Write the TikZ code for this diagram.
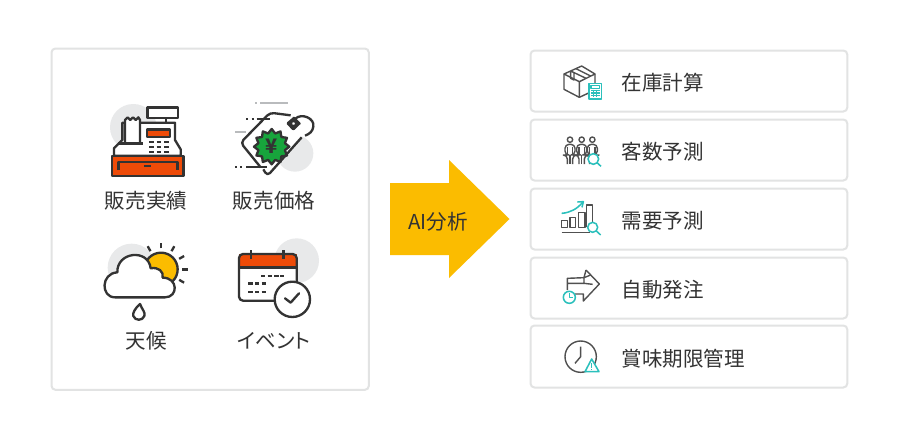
\documentclass[tikz,border=0pt]{standalone}
\usepackage{fontspec}
\setmainfont{Noto Sans CJK JP}
\newfontfamily\paltfont[RawFeature=+palt]{Noto Sans CJK JP}
\definecolor{ink}{HTML}{333333}
\definecolor{edge}{HTML}{E2E3E3}
\definecolor{paleg}{HTML}{E8E9EA}
\definecolor{linegrey}{HTML}{B9BBBD}
\definecolor{redor}{HTML}{EE4B08}
\definecolor{gold}{HTML}{FBBC00}
\definecolor{leaf}{HTML}{17A53C}
\definecolor{teal}{HTML}{2BC0BC}
\definecolor{dim}{HTML}{505050}
\tikzset{
  panel/.style={draw=edge,line width=1.5pt,rounded corners=3pt,fill=white,outer sep=0pt},
  ic/.style={draw=ink,line width=1.75pt,line join=round},
  thin/.style={draw=dim,line width=1.05pt,line join=round},
  tl/.style={draw=teal,line width=1.15pt,line join=round},
  lab/.style={text=ink,font=\fontsize{15.4pt}{18pt}\selectfont,inner sep=0pt},
  rlab/.style={lab,anchor=west},
}
\newcommand{\person}[1]{%
  \draw[thin] (#1,254) circle (8);
  \draw[thin,rounded corners=3pt] (#1-8,327)--(#1-8,300)--(#1-15,300)--(#1-15,268)--(#1+15,268)--(#1+15,300)--(#1+8,300)--(#1+8,327);
  \draw[thin] (#1,300)--(#1,327);
  \draw[thin] (#1-8,275)--(#1-8,300) (#1+8,275)--(#1+8,300);
}
\begin{document}
\begin{tikzpicture}[x=0.75pt,y=-0.75pt]
\useasboundingbox (0,0) rectangle (902,446);
\fill[white] (0,0) rectangle (902,446);
% panels
\node[panel,minimum width=238pt,minimum height=256pt,inner sep=0pt,anchor=north west] (src) at (51.5,48.5) {};
\foreach \n/\yy/\hh in {a/50.5/61,b/119.5/61,c/188.5/61,d/257.5/61,e/325.5/62}{
  \node[panel,minimum width=237.6pt,minimum height=\hh*0.75pt,inner sep=0pt,anchor=north west] (\n) at (530.5,\yy) {};
}
% arrow
\fill[gold] (390,183)--(449,183)--(449,160)--(509.5,219)--(449,278)--(449,255)--(390,255)--cycle;
\node[lab,text=ink] (ai) at (438,221.5) {AI分析};
% labels
\node[lab] (l1) at (146,200.7) {販売実績};
\node[lab] (l2) at (274,200.7) {販売価格};
\node[lab] (l3) at (146,340.7) {天候};
\node[lab,font=\fontsize{15.4pt}{18pt}\paltfont] (l4) at (274,340.7) {イベント};
\node[rlab] (r1) at (621.5,82.7) {在庫計算};
\node[rlab] (r2) at (621.5,151.7) {客数予測};
\node[rlab] (r3) at (621.5,220.7) {需要予測};
\node[rlab] (r4) at (621.5,289.7) {自動発注};
\node[rlab] (r5) at (621.5,358.7) {賞味期限管理};
% register
\begin{scope}[shift={(90,90)},scale=0.33333]
\fill[paleg] (130,112) circle (70);
\draw[ic,fill=white] (172,52) rectangle (263,83);
\draw[ic] (228,83)--(228,98);
\draw[ic,fill=white] (72,197)--(72,175)--(97,150)--(97,98)--(255,98)--(255,150)--(272,178)--(272,197)--cycle;
\draw[ic,fill=white] (105,160)--(105,90)--(113,82)--(121,90)--(129,82)--(137,90)--(145,82)--(150,90)--(150,160);
\draw[ic] (85,160)--(160,160);
\draw[ic,fill=redor] (170,118) rectangle (240,140);
\foreach \yy in {155,170,185}{
  \foreach \xx in {178,200,222}{ \draw[ic] (\xx,\yy)--(\xx+14,\yy); }
}
\draw[ic,fill=redor] (65,197) rectangle (280,258);
\draw[ic] (85,240)--(85,215)--(262,215)--(262,240);
\draw[ic] (162,228)--(182,228);
\end{scope}
% price tag
\begin{scope}[shift={(220,90)},scale=0.33333]
\fill[paleg] (225,190) circle (55);
\fill[white] (62,158)--(150,68)--(235,78)--(250,135)--(140,258)--cycle;
\draw[ic,rounded corners=3pt] (122,232)--(62,158)--(150,68)--(212,76);
\draw[ic,rounded corners=3pt] (130,238)--(142,258)--(245,142);
\draw[ic,rounded corners=6pt] (203,100)--(222,84)--(238,100)--(220,118)--cycle;
\draw[ic] (226,86) .. controls (245,68) and (285,85) .. (280,110) .. controls (278,125) and (268,132) .. (255,137);
\draw[ic,fill=leaf] plot[samples=25,domain=0:360,variable=\t] ({155+(47+6*cos(12*\t))*cos(\t)},{170+(47+6*cos(12*\t))*sin(\t)}) -- cycle;
\node[text=ink,inner sep=0pt,font=\fontsize{15pt}{15pt}\selectfont\bfseries] (yen) at (155,170) {¥};
\draw[draw=linegrey,line width=1.5pt] (105,38)--(112,38) (120,38)--(205,38) (45,125)--(78,125);
\draw[ic] (78,87)--(85,87) (95,87)--(102,87) (110,87)--(150,87);
\draw[ic] (45,230)--(52,230) (60,230)--(67,230) (78,230)--(140,230);
\end{scope}
% weather
\begin{scope}[shift={(90,235)},scale=0.33333]
\fill[paleg] (125,98) circle (72);
\draw[ic,fill=gold] (213,103) circle (50);
\foreach \ang in {-30,0,30,60,90,120}{
  \draw[ic] ({213+63*cos(\ang)},{103-63*sin(\ang)})--({213+80*cos(\ang)},{103-80*sin(\ang)});
}
\draw[ic,fill=white] (75,187) .. controls (32,187) and (32,115) .. (82,112)
  .. controls (80,50) and (175,40) .. (182,100)
  .. controls (205,95) and (222,110) .. (218,128)
  .. controls (265,128) and (265,187) .. (225,187) -- cycle;
\draw[ic] (150,207) .. controls (135,220) and (127,235) .. (130,243) .. controls (135,258) and (158,258) .. (163,243) .. controls (167,232) and (157,225) .. (150,207) -- cycle;
\end{scope}
% calendar
\begin{scope}[shift={(225,230)},scale=0.33333]
\fill[paleg] (215,92) circle (67);
\fill[white] (42,72) rectangle (215,212);
\fill[redor] (42,72) rectangle (215,112);
\draw[ic,rounded corners=3pt] (150,212)--(42,212)--(42,72)--(215,72)--(215,165);
\draw[ic] (42,112)--(215,112);
\draw[ic] (78,60)--(78,88) (175,60)--(175,88);
\foreach \xx in {108,128,148,165}{ \draw[ic] (\xx,138)--(\xx+13,138); }
\foreach \yy in {160,185}{\foreach \xx in {70,90,110}{ \draw[ic] (\xx,\yy)--(\xx+13,\yy); }}
\draw[ic,fill=white] (202,208) circle (53);
\draw[ic,line cap=round] (180,205)--(197,218)--(222,190);
\end{scope}
% box + calculator
\begin{scope}[shift={(550,55)},scale=0.33333]
\draw[thin] (95,33)--(42,57)--(42,103)--(88,127)--(135,105)--(135,57)--cycle;
\draw[thin] (42,57)--(88,80)--(135,57) (88,80)--(88,127);
\draw[thin] (62,48)--(108,70) (78,41)--(122,63) (62,48)--(62,70)--(72,75)--(72,54);
\draw[tl,fill=white] (117,85) rectangle (155,132);
\draw[tl] (123,91) rectangle (149,100);
\foreach \yy in {107,114,121}{\draw[tl,line width=0.9pt] (123,\yy)--(149,\yy);}
\draw[tl,line width=0.7pt] (131,104)--(131,126) (140,104)--(140,126);
% people
\person{60}\person{95}\person{127}
\draw[tl,fill=white] (130,312) circle (16);
\draw[tl] (141,323)--(153,334);
\end{scope}
% chart + order
\begin{scope}[shift={(550,190)},scale=0.33333]
\draw[thin] (35,92) rectangle (52,112);
\draw[thin] (60,82) rectangle (77,112);
\draw[thin] (85,68) rectangle (105,112);
\draw[thin] (110,112)--(110,45)--(127,45)--(127,97);
\draw[thin] (35,128)--(120,128);
\draw[tl] (35,70) .. controls (60,68) and (80,58) .. (98,37);
\draw[tl] (82,36)--(100,35)--(96,52);
\draw[tl,fill=white] (128,112) circle (15);
\draw[tl] (139,123)--(152,135);
% order
\draw[thin] (108,240)--(148,282)--(100,333)--(100,312)--(75,312);
\draw[thin] (52,300)--(52,265)--(102,263)--(102,280)--(52,280);
\draw[thin] (102,263)--(108,240);
\draw[thin] (122,255)--(102,263);
\draw[thin] (102,280)--(128,283);
\draw[tl,fill=white] (58,322) circle (18);
\draw[tl] (58,310)--(58,322)--(70,322);
\end{scope}
% clock + warning
\begin{scope}[shift={(550,325)},scale=0.33333]
\draw[thin] (92,95) circle (47);
\draw[thin] (92,65)--(92,95)--(75,115);
\draw[tl,fill=white] (105,140)--(125,102)--(147,140)--cycle;
\draw[tl] (125,115)--(125,128) (125,132)--(125,135);
\end{scope}
\end{tikzpicture}
\end{document}
